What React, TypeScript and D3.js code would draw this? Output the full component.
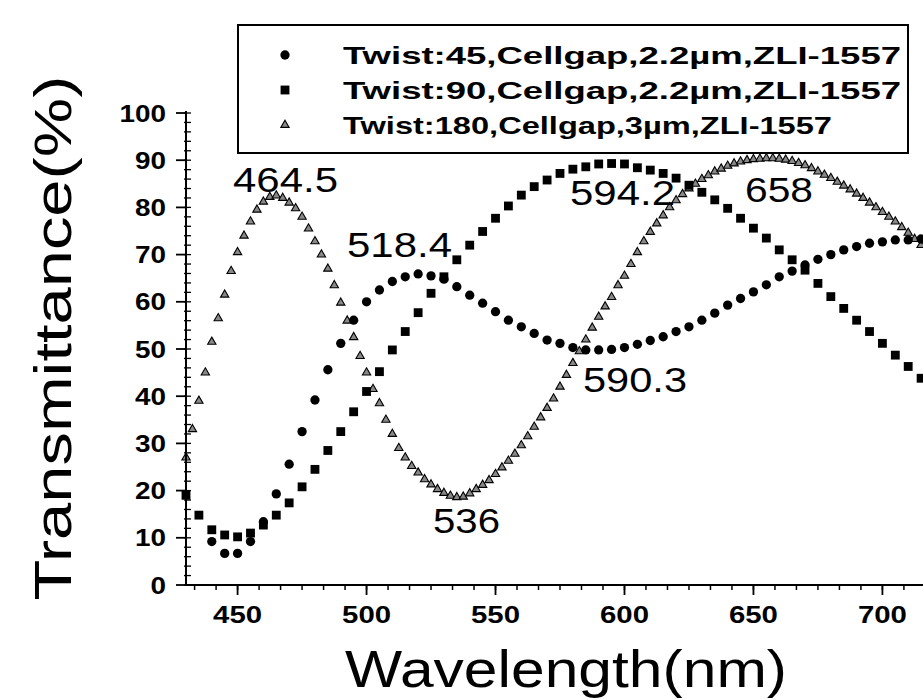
import React from "react";
import * as d3 from "d3";

const width = 923;
const height = 699;

// Twist:45 (circles)
const circleWavelength = [
  440, 445, 450, 455, 460, 465, 470, 475, 480, 485, 490, 495, 500, 505, 510, 515, 520, 525, 530, 535,
  540, 545, 550, 555, 560, 565, 570, 575, 580, 585, 590, 595, 600, 605, 610, 615, 620, 625, 630, 635,
  640, 645, 650, 655, 660, 665, 670, 675, 680, 685, 690, 695, 700, 705, 710, 715,
];
const circleValue = [
  9.2, 6.7, 6.7, 9.2, 13.4, 19.3, 25.6, 32.5, 39.2, 45.6, 51.2, 56.1, 60, 62.5, 64.3, 65.3, 65.9, 65.5, 64.8, 63.2,
  61.4, 59.7, 57.9, 56.1, 54.7, 53.3, 51.9, 51.2, 50.3, 49.8, 49.8, 49.9, 50.3, 51, 51.8, 52.6, 53.7, 54.7, 56.1, 57.6,
  59.3, 60.7, 62.1, 63.6, 65.3, 66.5, 67.8, 69, 70, 71, 71.7, 72.4, 72.7, 73.1, 73.1, 73.3,
];

// Twist:90 (squares)
const squareWavelength = [
  430, 435, 440, 445, 450, 455, 460, 465, 470, 475, 480, 485, 490, 495, 500, 505, 510, 515, 520, 525,
  530, 535, 540, 545, 550, 555, 560, 565, 570, 575, 580, 585, 590, 595, 600, 605, 610, 615, 620, 625,
  630, 635, 640, 645, 650, 655, 660, 665, 670, 675, 680, 685, 690, 695, 700, 705, 710, 715,
];
const squareValue = [
  19, 14.8, 11.7, 10.6, 10.2, 11, 12.7, 14.8, 17.4, 20.8, 24.5, 28.5, 32.5, 36.7, 41, 45.2, 49.8, 53.7, 57.7, 61.8,
  65.3, 68.9, 72, 74.9, 77.7, 80.3, 82.6, 84.4, 85.8, 87.2, 88.1, 88.6, 89.2, 89.3, 89.2, 88.4, 87.9, 87.2, 86.2, 84.7,
  83.2, 81.6, 79.8, 77.7, 75.6, 73.5, 71, 68.9, 66.7, 63.9, 61.1, 58.6, 56.1, 53.7, 51.2, 48.7, 46.3, 43.8,
];

// Twist:180 (triangles)
const triangleWavelength = [
  430, 432.5, 435, 437.5, 440, 442.5, 445, 447.5, 450, 452.5,
  455, 457.5, 460, 462.5, 465, 467.5, 470, 472.5, 475, 477.5,
  480, 482.5, 485, 487.5, 490, 492.5, 495, 497.5, 500, 502.5,
  505, 507.5, 510, 512.5, 515, 517.5, 520, 522.5, 525, 527.5,
  530, 532.5, 535, 537.5, 540, 542.5, 545, 547.5, 550, 552.5,
  555, 557.5, 560, 562.5, 565, 567.5, 570, 572.5, 575, 577.5,
  580, 582.5, 585, 587.5, 590, 592.5, 595, 597.5, 600, 602.5,
  605, 607.5, 610, 612.5, 615, 617.5, 620, 622.5, 625, 627.5,
  630, 632.5, 635, 637.5, 640, 642.5, 645, 647.5, 650, 652.5,
  655, 657.5, 660, 662.5, 665, 667.5, 670, 672.5, 675, 677.5,
  680, 682.5, 685, 687.5, 690, 692.5, 695, 697.5, 700, 702.5,
  705, 707.5, 710, 712.5, 715,
];
const triangleValue = [
  27, 33, 39, 45, 51.5, 56.5, 61.5, 66.5, 70.5, 74,
  77, 79.5, 81.2, 82.2, 82.5, 82, 81, 79.8, 78, 75.5,
  72.8, 70, 67, 63.5, 59.8, 56, 52.5, 48.5, 45, 41.5,
  38.5, 35, 32, 29, 27, 25.2, 23.8, 22.4, 21.3, 20.3,
  19.5, 18.9, 18.6, 18.7, 19.4, 20.3, 21.2, 22.2, 23.5, 24.9,
  26.3, 27.8, 29.6, 31.5, 33.5, 35.5, 37.5, 39.5, 42, 44.5,
  47, 49.5, 52, 54.5, 56.8, 59, 61, 63.5, 65.5, 68,
  70.5, 72.8, 74.8, 76.6, 78.3, 80, 81.5, 82.8, 84, 85,
  86, 86.8, 87.6, 88.2, 88.8, 89.3, 89.7, 90, 90.2, 90.3,
  90.4, 90.4, 90.3, 90.1, 89.8, 89.4, 88.9, 88.3, 87.6, 86.9,
  86.2, 85.4, 84.6, 83.8, 82.9, 82, 81, 80, 79, 78,
  77, 75.8, 74.6, 73.3, 72,
];

const legendLabels = [
  "Twist:45,Cellgap,2.2\u00b5m,ZLI-1557",
  "Twist:90,Cellgap,2.2\u00b5m,ZLI-1557",
  "Twist:180,Cellgap,3\u00b5m,ZLI-1557",
];
const xTickLabels = [450, 500, 550, 600, 650, 700];
const yTickLabels = [0, 10, 20, 30, 40, 50, 60, 70, 80, 90, 100];
const peakLabels = ["464.5", "518.4", "594.2", "658", "590.3", "536"];

const font = "'Liberation Sans', Arial, sans-serif";

const App = () => {
  const x = d3.scaleLinear().domain([430, 720]).range([186, 934]);
  const y = d3.scaleLinear().domain([0, 100]).range([585, 113]);

  const circlePath = d3.symbol().type(d3.symbolCircle).size(68)();
  const squarePath = d3.symbol().type(d3.symbolSquare).size(78)();
  const trianglePath = d3.symbol().type(d3.symbolTriangle).size(30)();

  // the original axis has 6 minor steps per 50 nm
  const minorX = d3.range(430 + (50 / 6) * 0.4, 720, 50 / 6).filter((d) => d > 431);
  const minorY = d3.range(0, 101, 2);

  // where the peak/valley numbers sit: [x start, baseline, width]
  const peakPos = [
    [233, 192, 105],
    [347, 257, 105],
    [570, 205, 105],
    [745, 202, 68],
    [583, 392, 104],
    [433, 533, 67],
  ];

  const legendY = [55, 90, 125];
  const legendWidth = [558, 558, 489];
  const legendMarks = [circlePath, squarePath, trianglePath];

  return (
    <svg
      width={width}
      height={height}
      style={{ position: "absolute", left: 0, top: 0, background: "#fff" }}
      fontFamily={font}
    >
      <rect width={width} height={height} fill="#fff" />

      {/* series */}
      {triangleWavelength.map((w, i) => (
        <path
          key={"t" + i}
          d={trianglePath}
          transform={`translate(${x(w)},${y(triangleValue[i])})`}
          fill="#888"
          stroke="#000"
          strokeWidth={1.1}
        />
      ))}
      {circleWavelength.map((w, i) => (
        <path key={"c" + i} d={circlePath} transform={`translate(${x(w)},${y(circleValue[i])})`} fill="#000" />
      ))}
      {squareWavelength.map((w, i) => (
        <path key={"s" + i} d={squarePath} transform={`translate(${x(w)},${y(squareValue[i])})`} fill="#000" />
      ))}

      {/* x axis */}
      <line x1={x(430)} x2={width} y1={y(0)} y2={y(0)} stroke="#000" strokeWidth={2} />
      {minorX.map((t) => (
        <line key={"mx" + t} x1={x(t)} x2={x(t)} y1={y(0)} y2={y(0) + 5} stroke="#000" strokeWidth={1.5} />
      ))}
      {xTickLabels.map((t) => (
        <g key={"x" + t} transform={`translate(${x(t)},0)`}>
          <line y1={y(0)} y2={y(0) + 10} stroke="#000" strokeWidth={1.8} />
          <text
            y={623}
            textAnchor="middle"
            fontSize={24}
            fontWeight="bold"
            textLength={49}
            lengthAdjust="spacingAndGlyphs"
          >
            {t}
          </text>
        </g>
      ))}

      {/* y axis */}
      <line x1={x(430)} x2={x(430)} y1={y(0)} y2={y(100) - 2} stroke="#000" strokeWidth={2} />
      {minorY.map((t) => (
        <line key={"my" + t} x1={x(430) - 2} x2={x(430) + 5} y1={y(t)} y2={y(t)} stroke="#000" strokeWidth={1.3} />
      ))}
      {yTickLabels.map((t) => (
        <g key={"y" + t} transform={`translate(0,${y(t)})`}>
          <line x1={x(430) - 10} x2={x(430)} stroke="#000" strokeWidth={1.8} />
          <text
            x={166}
            dy="0.36em"
            textAnchor="end"
            fontSize={24}
            fontWeight="bold"
            textLength={String(t).length * 15.5}
            lengthAdjust="spacingAndGlyphs"
          >
            {t}
          </text>
        </g>
      ))}

      {/* axis titles */}
      <text
        transform="translate(71,338) rotate(-90)"
        textAnchor="middle"
        fontSize={52}
        textLength={525}
        lengthAdjust="spacingAndGlyphs"
      >
        Transmittance(%)
      </text>
      <text x={345} y={687} fontSize={52} textLength={442} lengthAdjust="spacingAndGlyphs">
        Wavelength(nm)
      </text>

      {/* peak annotations */}
      {peakLabels.map((l, i) => (
        <text
          key={"p" + i}
          x={peakPos[i][0]}
          y={peakPos[i][1]}
          fontSize={35}
          textLength={peakPos[i][2]}
          lengthAdjust="spacingAndGlyphs"
        >
          {l}
        </text>
      ))}

      {/* legend */}
      <rect x={238} y={25} width={670} height={128} fill="#fff" stroke="#000" strokeWidth={2} />
      {legendLabels.map((l, i) => (
        <g key={"l" + i}>
          <path
            d={legendMarks[i]}
            transform={`translate(285,${legendY[i]})`}
            fill={i === 2 ? "#888" : "#000"}
            stroke="#000"
            strokeWidth={i === 2 ? 1.1 : 0}
          />
          <text
            x={343}
            y={legendY[i] + 7}
            dy="0.1em"
            fontSize={24}
            fontWeight="bold"
            textLength={legendWidth[i]}
            lengthAdjust="spacingAndGlyphs"
          >
            {l}
          </text>
        </g>
      ))}
    </svg>
  );
};

export default App;
